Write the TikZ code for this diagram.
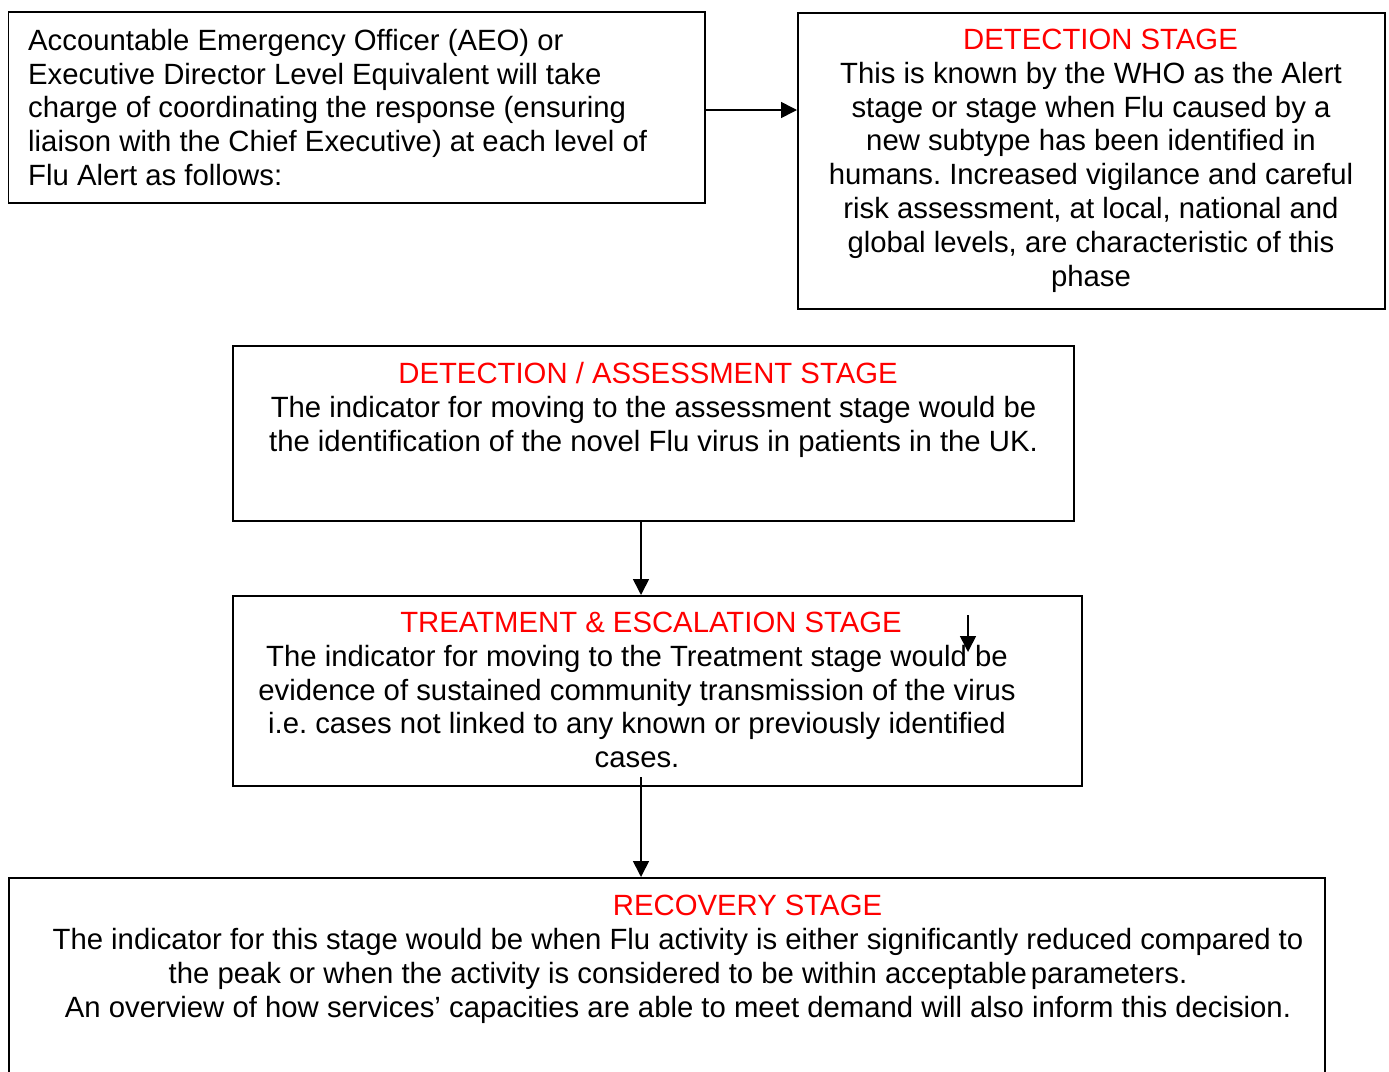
\documentclass[tikz,border=0pt]{standalone}
\usepackage{fontspec}
\setmainfont{Liberation Sans}
\usetikzlibrary{arrows.meta}
\frenchspacing
\newcommand\bodyfont{\fontsize{29.3}{33.8}\selectfont\frenchspacing}
\definecolor{titlered}{RGB}{255,0,0}
\tikzset{
  boxnode/.style={draw=black, line width=1.6pt, rectangle, inner sep=0pt, anchor=north west},
  bodytext/.style={font=\bodyfont, inner sep=0pt, anchor=north, align=center, text=black},
  titletext/.style={font=\bodyfont, inner sep=0pt, anchor=north, text=titlered},
  arrowline/.style={line width=1.6pt, -{Triangle[length=16pt,width=16pt]}}
}
\begin{document}
\begin{tikzpicture}[x=1pt,y=-1pt]
\clip (0,0) rectangle (1389,1071);
\useasboundingbox (0,0) rectangle (1389,1071);
% boxes
\node[boxnode, minimum width=696.5pt, minimum height=191pt] (A) at (7.5,11) {};
\node[boxnode, minimum width=587pt, minimum height=296pt] (B) at (797,12) {};
\node[boxnode, minimum width=841pt, minimum height=175pt] (C) at (232,345) {};
\node[boxnode, minimum width=849pt, minimum height=190pt] (D) at (232,595) {};
\node[boxnode, minimum width=1316pt, minimum height=230pt] (E) at (8,877) {};
% texts
\node[bodytext, anchor=north west, align=left] (Atext) at (28,26.4)
  {\strut Accountable Emergency Officer (AEO) or\\
   Executive Director Level Equivalent will take\\
   charge of coordinating the response (ensuring\\
   liaison with the Chief Executive) at each level of\\
   Flu Alert as follows:};
\node[titletext] (Btitle) at (1100.5,25.6) {\strut DETECTION STAGE};
\node[bodytext] (Btext) at (1091,59.4)
  {\strut This is known by the WHO as the Alert\\
   stage or stage when Flu caused by a\\
   new subtype has been identified in\\
   humans. Increased vigilance and careful\\
   risk assessment, at local, national and\\
   global levels, are characteristic of this\\
   phase};
\node[titletext] (Ctitle) at (648,359.6) {\strut DETECTION / ASSESSMENT STAGE};
\node[bodytext] (Ctext) at (653.5,393.4)
  {\strut The indicator for moving to the assessment stage would be\\
   the identification of the novel Flu virus in patients in the UK.};
\node[titletext] (Dtitle) at (651,608.6) {\strut TREATMENT \& ESCALATION STAGE};
\node[bodytext] (Dtext) at (637,642.4)
  {\strut The indicator for moving to the Treatment stage would be\\
   evidence of sustained community transmission of the virus\\
   i.e. cases not linked to any known or previously identified\\
   cases.};
\node[titletext] (Etitle) at (747.5,892.1) {\strut RECOVERY STAGE};
\node[bodytext] (Etext) at (678,925.9)
  {\strut The indicator for this stage would be when Flu activity is either significantly reduced compared to\\
   the peak or when the activity is considered to be within acceptable\hspace{4pt}parameters.\\
   An overview of how services' capacities are able to meet demand will also inform this decision.};
% connectors
\coordinate (abstart) at (704,110);
\draw[arrowline] (abstart) -- (abstart -| B.west);
\coordinate (cdstart) at (641,520);
\draw[arrowline] (cdstart) -- (cdstart |- D.north);
\coordinate (destart) at (641,777);
\draw[arrowline] (destart) -- (destart |- E.north);
\coordinate (smallstart) at (968,615);
\coordinate (smallend) at (968,652);
\draw[arrowline] (smallstart) -- (smallend);
\end{tikzpicture}
\end{document}
